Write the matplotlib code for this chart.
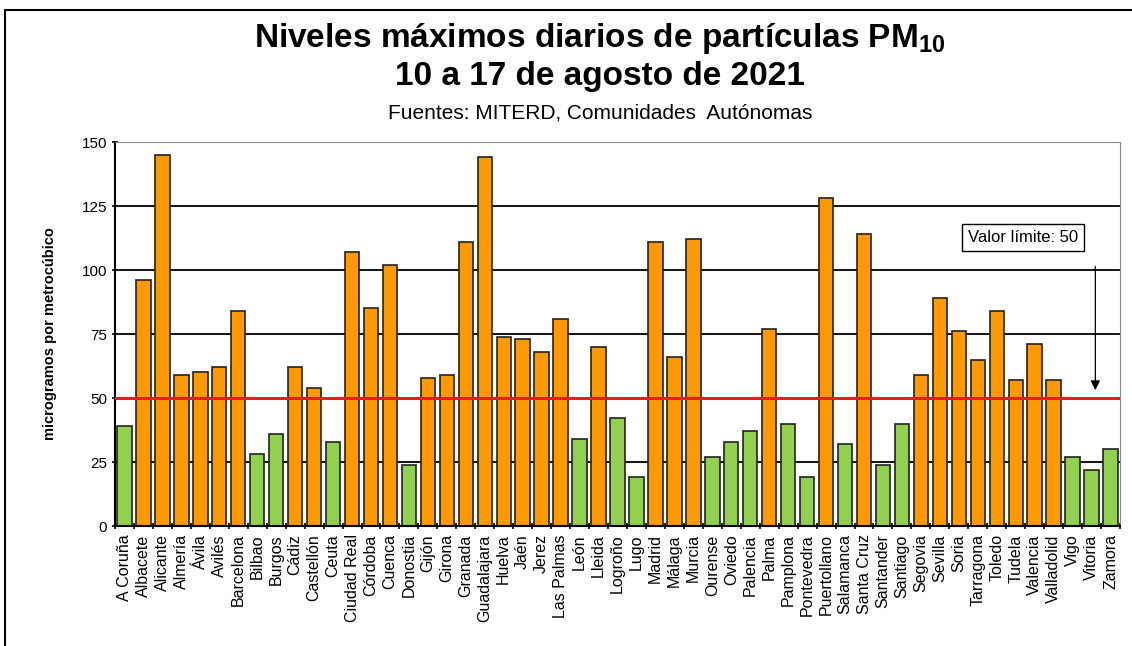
import numpy as np
import matplotlib.pyplot as plt
from matplotlib.patches import Rectangle
from matplotlib.ticker import FixedLocator

ciudades = ["A Coruña", "Albacete", "Alicante", "Almería", "Ávila", "Avilés", "Barcelona",
            "Bilbao", "Burgos", "Cádiz", "Castellón", "Ceuta", "Ciudad Real", "Córdoba",
            "Cuenca", "Donostia", "Gijón", "Girona", "Granada", "Guadalajara", "Huelva",
            "Jaén", "Jerez", "Las Palmas", "León", "Lleida", "Logroño", "Lugo", "Madrid",
            "Málaga", "Murcia", "Ourense", "Oviedo", "Palencia", "Palma", "Pamplona",
            "Pontevedra", "Puertollano", "Salamanca", "Santa Cruz", "Santander", "Santiago",
            "Segovia", "Sevilla", "Soria", "Tarragona", "Toledo", "Tudela", "Valencia",
            "Valladolid", "Vigo", "Vitoria", "Zamora"]
maximos = [39, 96, 145, 59, 60, 62, 84,
           28, 36, 62, 54, 33, 107, 85,
           102, 24, 58, 59, 111, 144, 74,
           73, 68, 81, 34, 70, 42, 19, 111,
           66, 112, 27, 33, 37, 77, 40,
           19, 128, 32, 114, 24, 40,
           59, 89, 76, 65, 84, 57, 71,
           57, 27, 22, 30]
limite = 50
yticks = [0, 25, 50, 75, 100, 125, 150]

plt.rcParams['font.family'] = ['Liberation Sans', 'DejaVu Sans']

fig = plt.figure(figsize=(11.32, 6.46), dpi=100)
ax = fig.add_axes([115 / 1132, 1 - 526 / 646, (1120 - 115) / 1132, (526 - 142) / 646])

x = np.arange(len(ciudades))
colores = ['#92D050' if v < limite else '#FF9900' for v in maximos]

for y in yticks[1:-1]:
    ax.axhline(y, color='black', lw=1.3, zorder=0)
ax.axhline(150, color='#888888', lw=1.3, zorder=0)

ax.bar(x, maximos, width=0.76, color=colores, edgecolor='#222222', linewidth=1.2, zorder=2)
ax.axhline(limite, color='#E0201B', lw=2.2, zorder=3)

ax.set_xlim(-0.5, len(ciudades) - 0.5)
ax.set_ylim(0, 150)
ax.set_yticks(yticks)
ax.tick_params(axis='y', labelsize=11, length=4, direction='inout', width=1.2)
ax.set_xticks(x)
ax.set_xticklabels(ciudades, rotation=90, fontsize=11.5)
ax.tick_params(axis='x', which='major', length=0, pad=6)
ax.xaxis.set_minor_locator(FixedLocator(np.arange(-0.5, len(ciudades), 1)))
ax.tick_params(axis='x', which='minor', length=5, direction='inout', width=1.2)

ax.spines['left'].set_color('black')
ax.spines['left'].set_linewidth(1.5)
ax.spines['bottom'].set_linewidth(1.5)
ax.spines['top'].set_color('#888888')
ax.spines['right'].set_color('#888888')

ax.set_ylabel('microgramos por metrocúbico', fontsize=10.5, fontweight='bold', labelpad=18)

ax.annotate('', xy=(51.2, 52), xytext=(51.2, 102.5),
            arrowprops=dict(arrowstyle='-|>', color='black', lw=0.9, mutation_scale=14), zorder=4)
ax.text(47.4, 112.7, 'Valor límite: 50', fontsize=12, ha='center', va='center', zorder=5,
        bbox=dict(boxstyle='square,pad=0.35', fc='white', ec='black', lw=1.0))

fig.text(0.53, 1 - 38 / 646, r'Niveles máximos diarios de partículas PM$_{\mathregular{10}}$',
         fontsize=24, fontweight='bold', ha='center', va='center')
fig.text(0.53, 1 - 77 / 646, '10 a 17 de agosto de 2021',
         fontsize=24, fontweight='bold', ha='center', va='center')
fig.text(0.53, 1 - 113 / 646, 'Fuentes: MITERD, Comunidades  Autónomas',
         fontsize=15, ha='center', va='center')

fig.patches.append(Rectangle((5 / 1132, -0.05), 1.1, 1 - 10 / 646 + 0.05,
                             transform=fig.transFigure, fill=False, ec='black', lw=1.5))

fig.savefig('out.png', dpi=100)
